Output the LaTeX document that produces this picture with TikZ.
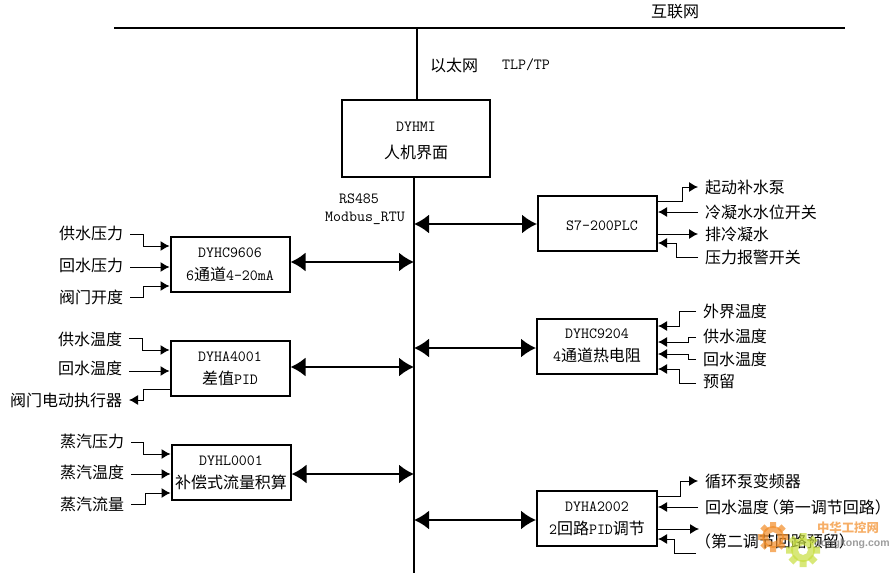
\documentclass[tikz,border=0pt]{standalone}
\usepackage{fontspec}
\usepackage{tikz}
\usetikzlibrary{arrows.meta}
\usetikzlibrary{positioning}
\newfontfamily\cjk[Scale=1.032]{Noto Sans CJK SC}
\newfontfamily\wmfont{Liberation Sans}
\definecolor{wmorange}{rgb}{0.95,0.55,0.15}
\definecolor{wmgreen}{rgb}{0.78,0.87,0.25}
\tikzset{
    every node/.style={font=\ttfamily\fontsize{15.5}{23}\selectfont, inner sep=0pt},
    devbox/.style={draw, line width=2pt, align=center, minimum width=#1, minimum height=55pt, execute at begin node=\rule{0pt}{14pt}},
    devbox/.default=119pt,
    trunk/.style={line width=2pt},
    busarrow/.style={line width=2pt, {Latex[length=15pt,width=19pt]}-{Latex[length=15pt,width=19pt]}},
    sigin/.style={line width=1pt, -{Latex[length=9pt,width=10pt]}},
    leftlabel/.style={anchor=east, outer xsep=7pt},
    rightlabel/.style={anchor=west, outer xsep=7pt},
}
\begin{document}
\begin{tikzpicture}[x=1pt,y=-1pt]
            \useasboundingbox (0,0) rectangle (894,575);
            % network and bus
            \coordinate (netL) at (114,28);
            \coordinate (netR) at (845,28);
            \coordinate (busB) at (414,573);
            \node (inet) at (675,12) {\cjk 互联网};
            \node (eth) at (454,65) {\cjk 以太网};
            \node (tlp) at (526,65) {TLP/TP};
            \node[draw, line width=2pt, minimum width=148pt, minimum height=77pt, align=center] (hmi) at (416,138.5) {\rule{0pt}{14pt}DYHMI\hspace{12pt}\\[4pt]{\cjk 人机界面}\hspace{26pt}};
            \node (rs) at (359,199) {RS485};
            \node (modbus) at (365,218) {Modbus\_RTU};
            \draw[trunk] (netL) -- (netR);
            \draw[trunk] (417,0 |- netL) -- (417,0 |- hmi.north);
            \draw[trunk] (busB |- hmi.south) -- (busB);
            % left devices
            \node[devbox] (c9606) at (230,264.5) {DYHC9606\\{6\cjk 通道}4-20mA};
            \node[devbox] (a4001) at (230,368.5) {DYHA4001\\{\cjk 差值}PID};
            \node[devbox] (l0001) at (231,472.5) {DYHL0001\\{\cjk 补偿式流量积算}};
            % right devices
            \node[devbox, execute at begin node=] (s7) at (597.5,223.5) {\hspace{9pt}S7-200PLC};
            \node[devbox=120pt] (c9204) at (597,346) {DYHC9204\\{4\cjk 通道热电阻}};
            \node[devbox=120pt] (a2002) at (597,518.5) {DYHA2002\\{2\cjk 回路}PID{\cjk 调节}};
            % bus arrows
            \draw[busarrow] (busB |- 0,224) -- (s7.west |- 0,224);
            \draw[busarrow] (c9606.east |- 0,262) -- (busB |- 0,262);
            \draw[busarrow] (busB |- 0,348) -- (c9204.west |- 0,348);
            \draw[busarrow] (a4001.east |- 0,367) -- (busB |- 0,367);
            \draw[busarrow] (l0001.east |- 0,474) -- (busB |- 0,474);
            \draw[busarrow] (busB |- 0,520) -- (a2002.west |- 0,520);
            % left labels
            \node[leftlabel] (ps) at (130,233) {\cjk 供水压力};
            \node[leftlabel] (pr) at (130,265) {\cjk 回水压力};
            \node[leftlabel] (vo) at (130,297) {\cjk 阀门开度};
            \node[leftlabel] (ts) at (129,339) {\cjk 供水温度};
            \node[leftlabel] (tr) at (129,368) {\cjk 回水温度};
            \node[leftlabel] (va) at (129,400) {\cjk 阀门电动执行器};
            \node[leftlabel] (sp) at (131,441) {\cjk 蒸汽压力};
            \node[leftlabel] (st) at (131,472) {\cjk 蒸汽温度};
            \node[leftlabel] (sf) at (131,504) {\cjk 蒸汽流量};
            \draw[sigin] (ps.east |- 0,234) -- ++(13,0) |- (c9606.west |- 0,246);
            \draw[sigin] (pr.east |- 0,267) -- (c9606.west |- 0,267);
            \draw[sigin] (vo.east |- 0,297) -- ++(13,0) |- (c9606.west |- 0,286);
            \draw[sigin] (ts.east |- 0,338) -- ++(13,0) |- (a4001.west |- 0,350);
            \draw[sigin] (tr.east |- 0,371) -- (a4001.west |- 0,371);
            \draw[sigin] (a4001.west |- 0,389) -- ++(-26,0) |- (va.east);
            \draw[sigin] (sp.east |- 0,442) -- ++(12,0) |- (l0001.west |- 0,454);
            \draw[sigin] (st.east |- 0,474) -- (l0001.west |- 0,474);
            \draw[sigin] (sf.east |- 0,504) -- ++(14,0) |- (l0001.west |- 0,493);
            % right labels
            \node[rightlabel] (pump) at (698,187) {\cjk 起动补水泵};
            \node[rightlabel] (lvl) at (698,212) {\cjk 冷凝水水位开关};
            \node[rightlabel] (drain) at (698,234) {\cjk 排冷凝水};
            \node[rightlabel] (alarm) at (698,257) {\cjk 压力报警开关};
            \node[rightlabel] (tout) at (696,311) {\cjk 外界温度};
            \node[rightlabel] (tsup) at (696,336) {\cjk 供水温度};
            \node[rightlabel] (tret) at (696,359) {\cjk 回水温度};
            \node[rightlabel] (spare) at (696,381) {\cjk 预留};
            \node[rightlabel] (inv) at (698,481) {\cjk 循环泵变频器};
            \node[rightlabel] (loop1) at (698,507) {\cjk 回水温度\hspace{-6pt}（第一调节回路\makebox[8pt][l]{）}};
            \node[rightlabel] (loop2) at (696,541) {\cjk \hspace{-8pt}（第二调节回路预留）};
            \draw[sigin] (s7.east |- 0,201) -- ++(24,0) |- (pump.west);
            \draw[sigin] (lvl.west) -- (s7.east |- lvl.west);
            \draw[sigin] (s7.east |- 0,234) -- (drain.west);
            \draw[sigin] (alarm.west) -- ++(-22,0) |- (s7.east |- 0,243);
            \draw[sigin] (tout.west) -- ++(-17,0) |- (c9204.east |- 0,326);
            \draw[sigin] (tsup.west |- 0,337) -- ++(-8,0) |- (c9204.east |- 0,342);
            \draw[sigin] (tret.west) -- ++(-8,0) |- (c9204.east |- 0,354);
            \draw[sigin] (spare.west |- 0,383) -- ++(-17,0) |- (c9204.east |- 0,369);
            \draw[sigin] (a2002.east |- 0,496) -- ++(22,0) |- (inv.west);
            \draw[sigin] (loop1.west) -- (a2002.east |- loop1.west);
            \draw[sigin] (a2002.east |- 0,529) -- (699,529);
            \draw[sigin] (loop2.west |- 0,553) -- ++(-22,0) |- (a2002.east |- 0,539);
            % watermark
            \begin{scope}[opacity=0.7]
            \node[text=black!55, font=\wmfont\bfseries\fontsize{10.5}{12}\selectfont] (wmurl) at (852,544) {gongkong.com};
            \node[text=wmorange, font=\cjk\bfseries\fontsize{12}{13}\selectfont] (wmname) at (848,528) {中华工控网};
            \foreach \a in {0,45,...,315} {
                \fill[wmorange] (773,537) ++(\a:9) -- ++(\a+90:3) -- ++(\a:6) -- ++(\a-90:6) -- ++(\a:-6) -- cycle;
                \fill[wmgreen] (803,550) ++(\a:10) -- ++(\a+90:3.5) -- ++(\a:7) -- ++(\a-90:7) -- ++(\a:-7) -- cycle;
            }
            \fill[wmorange, even odd rule] (773,537) circle [radius=11] circle [radius=5];
            \fill[wmgreen, even odd rule] (803,550) circle [radius=12] circle [radius=5];
            \end{scope}
            \end{tikzpicture}
\end{document}
